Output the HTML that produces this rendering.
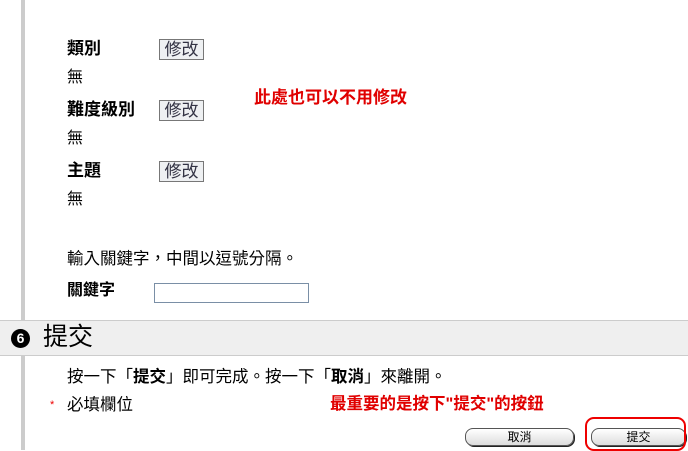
<!DOCTYPE html>
<html><head><meta charset="utf-8"><style>
body{margin:0;width:688px;height:450px;background:#fff;position:relative;overflow:hidden;font-family:"Liberation Sans","Noto Sans CJK TC",sans-serif;font-size:16px;color:#000}
.a{position:absolute;white-space:nowrap;line-height:1}
.b{font-weight:bold}
.btn{position:absolute;width:45px;height:21px;border:1px solid #777;background:#eef0f2;color:#334;font-size:17px;text-align:center;line-height:20px;box-sizing:border-box}
.red{color:#e00000;font-weight:bold}
.pill{position:absolute;height:16px;border:1px solid #555;border-radius:8px;background:linear-gradient(#fff,#ddd);font-size:12px;text-align:center;line-height:16px;box-shadow:1px 1px 0 #222}
</style></head><body>
<div style="position:absolute;left:21px;top:0;width:4px;height:320px;background:#ccc"></div>
<div style="position:absolute;left:21px;top:356px;width:4px;height:94px;background:#ccc"></div>
<div class="a b" style="left:67px;top:40px;font-size:17px">類別</div>
<div class="btn" style="left:159px;top:39px">修改</div>
<div class="a" style="left:67px;top:70px">無</div>
<div class="a b" style="left:67px;top:101px;font-size:17px">難度級別</div>
<div class="btn" style="left:159px;top:100px">修改</div>
<div class="a" style="left:67px;top:131px">無</div>
<div class="a b" style="left:67px;top:162px;font-size:17px">主題</div>
<div class="btn" style="left:159px;top:161px">修改</div>
<div class="a" style="left:67px;top:192px">無</div>
<div class="a red" style="left:254px;top:89px;font-size:17px">此處也可以不用修改</div>
<div class="a" style="left:67px;top:251px;font-size:16.5px">輸入關鍵字，中間以逗號分隔。</div>
<div class="a b" style="left:67px;top:283px">關鍵字</div>
<div style="position:absolute;left:154px;top:283px;width:155px;height:20px;border:1px solid #7a8fa6;box-sizing:border-box"></div>
<div style="position:absolute;left:0;top:320px;width:688px;height:36px;background:#efefef;border-top:1px solid #ccc;border-bottom:1px solid #ccc;box-sizing:border-box"></div>
<div class="a" style="left:11px;top:329px;width:19px;height:19px;border-radius:50%;background:#000;color:#fff;font-size:14px;font-weight:bold;text-align:center;line-height:19px">6</div>
<div class="a" style="left:43px;top:325px;font-size:25px">提交</div>
<div class="a" style="left:67px;top:369px;font-size:16.5px">按一下「<b>提交</b>」即可完成。按一下「<b>取消</b>」來離開。</div>
<div class="a" style="left:50px;top:400px;color:#e00;font-size:11px">*</div>
<div class="a" style="left:67px;top:397px;font-size:16.5px">必填欄位</div>
<div class="a red" style="left:330px;top:396px;font-size:16.5px">最重要的是按下"提交"的按鈕</div>
<div class="pill" style="left:465px;top:428px;width:107px">取消</div>
<div class="pill" style="left:591px;top:428px;width:93px">提交</div>
<div style="position:absolute;left:585px;top:417px;width:101px;height:34px;border:2px solid #e00;border-radius:9px;box-sizing:border-box"></div>
</body></html>
